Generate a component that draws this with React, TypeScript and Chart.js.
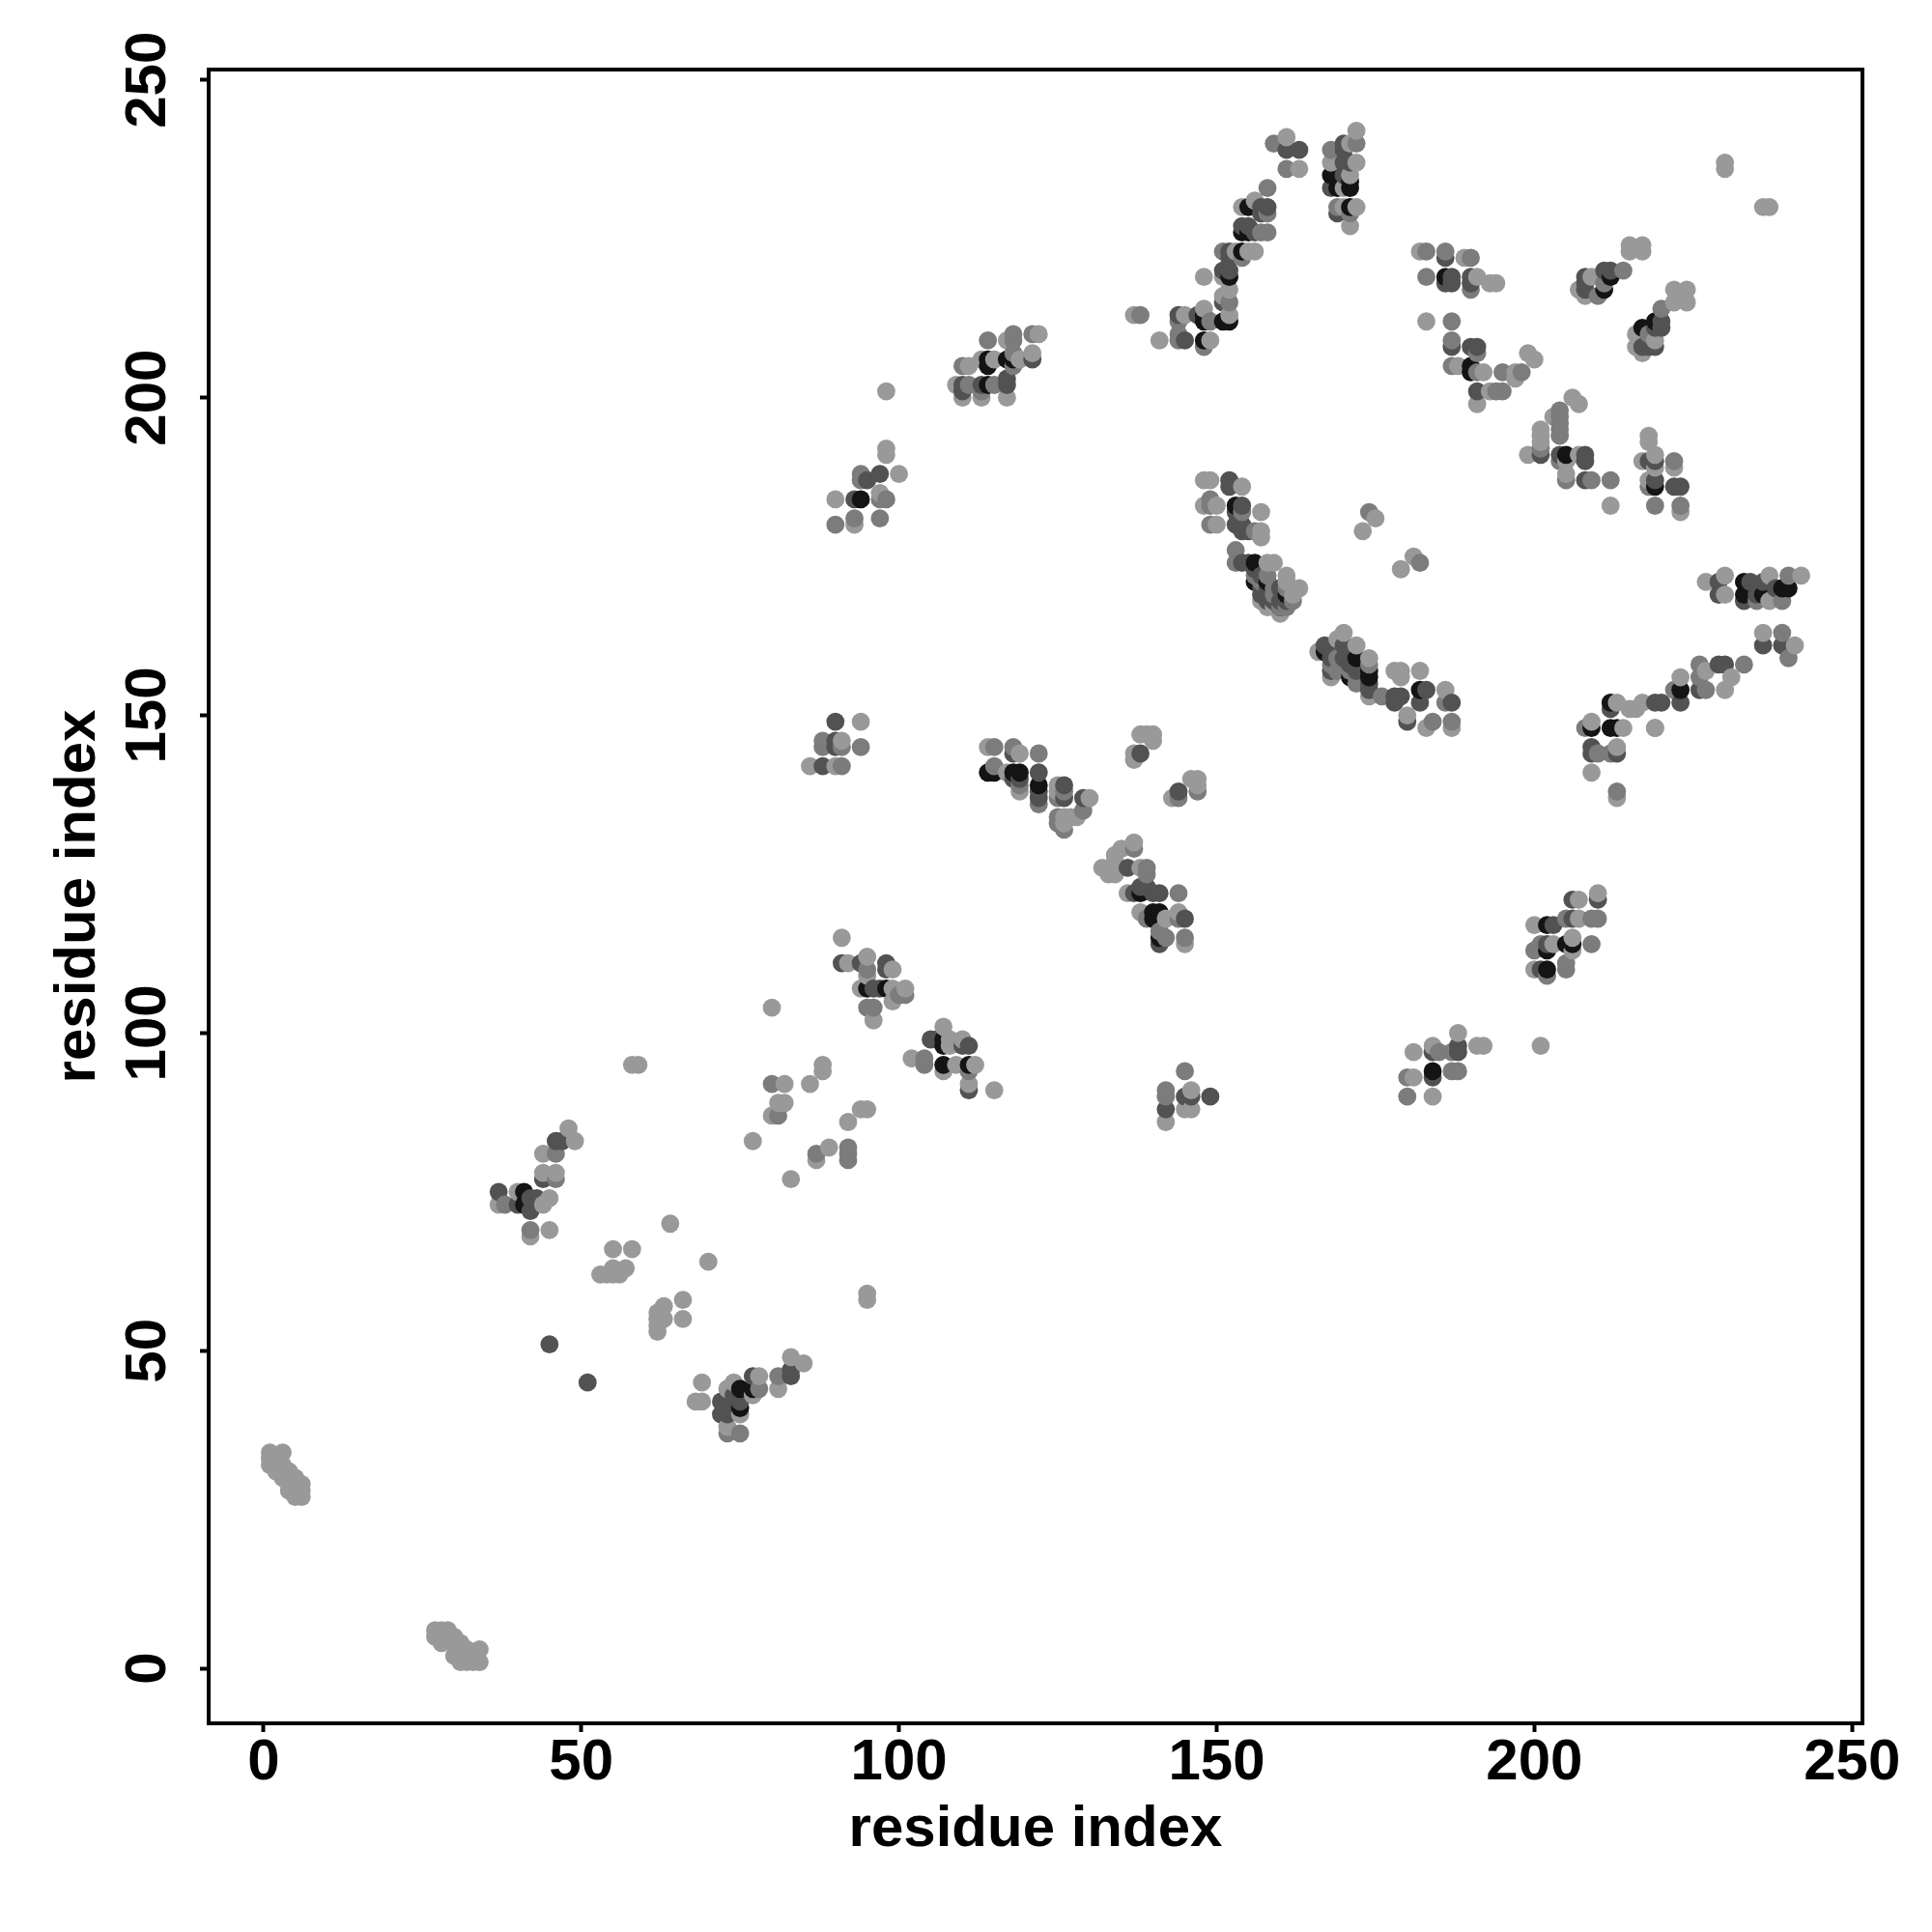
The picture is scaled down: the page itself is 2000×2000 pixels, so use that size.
import React, { useEffect, useRef } from "react";
import { Chart, registerables } from "chart.js";

Chart.register(...registerables);

type P = [number, number];

const TICKS = [0, 50, 100, 150, 200, 250];
const AXIS_TITLE = "residue index";

const lightPoints: P[] = [
  [1,34],[3,34],[1,33],[2,33],[1,32],[2,32],[3,32],[2,31],[3,31],[4,31],[3,30],[4,30],[5,30],[4,29],[5,29],[6,29],[4,28],[5,28],[6,28],[5,27],[6,27],
  [27,6],[28,6],[29,6],[27,5],[28,5],[29,5],[30,5],[28,4],[30,4],[31,4],[31,3],[32,3],[34,3],[30,2],[32,2],[33,2],[31,1],[32,1],[33,1],[34,1],
  [48,85],[49,83],[44,81],[46,78],[44,78],[45,74],[45,69],[42,68],[37,73],[40,75],[44,73],
  [58,95],[59,95],[64,70],[70,64],[55,66],[58,66],[53,62],[54,62],[55,63],[56,62],[57,63],[55,62],[63,57],[62,56],[63,55],[62,55],[62,53],[66,58],[66,55],[62,54],
  [69,45],[68,42],[69,42],[83,49],[85,48],[81,44],[78,46],[77,43],[74,45],[73,44],[75,40],[73,38],
  [80,104],[88,95],[88,94],[86,92],[82,92],[81,89],[82,89],[80,87],[77,83],[92,86],[94,88],[95,88],[83,77],[87,80],[89,82],[95,59],[95,58],
  [91,115],[92,111],[95,112],[95,109],[99,110],[94,107],[99,107],[101,107],[96,102],[99,105],
  [107,101],[108,99],[110,99],[108,98],[102,96],[109,95],[112,95],[107,94],[111,92],[115,91],
  [94,149],[91,146],[86,142],[90,142],[114,145],[119,144],[117,141],[119,138],[125,139],[125,138],[130,137],[128,134],[127,134],[126,134],[126,133],
  [138,147],[139,147],[140,147],[140,146],[137,144],[137,143],[143,137],[146,140],[147,140],[147,139],
  [137,130],[135,129],[134,128],[134,127],[132,126],[133,125],[134,125],[134,126],[138,126],[136,122],[138,119],[142,118],[144,119],[145,114],[142,86],[146,91],[145,88],[146,88],
  [154,186],[157,182],[150,180],[157,179],[157,178],[158,174],[159,174],[161,172],[161,171],[163,170],[162,169],[160,166],[148,187],[149,187],[150,183],[148,183],
  [157,168],[158,167],[159,167],[168,156],
  [173,179],[175,181],[181,175],[179,173],
  [170,163],[169,162],[172,161],[174,159],[174,153],[166,160],[178,157],[179,157],[179,156],[182,157],[186,154],[180,150],[183,148],[187,148],
  [209,149],[209,141],[213,137],[213,145],[214,148],[213,152],[215,151],[216,151],[217,152],[219,148],[223,156],[227,157],[231,156],[230,154],[236,163],[241,161],
  [227,171],[230,172],[230,169],[237,172],[237,168],[242,172],[210,122],[207,121],[207,118],[200,117],[203,114],[206,115],[200,110],[206,113],
  [188,100],[192,98],[191,98],[181,97],[184,98],[181,93],[184,90],[201,98],
  [122,210],[117,209],[121,207],[119,206],[113,206],[115,206],[111,205],[109,202],[117,200],[110,200],[113,200],
  [137,213],[141,209],[145,213],[148,214],[149,209],[152,213],[151,216],[152,217],[148,219],[151,219],[153,223],[155,223],[156,223],
  [154,230],[156,231],[161,241],[163,236],[172,242],[171,240],[172,237],[168,237],[171,235],[170,233],[170,230],[172,230],[171,227],
  [182,223],[189,222],[191,219],[193,218],[194,218],[183,212],[188,205],[192,204],[197,204],[197,203],[199,207],[200,206],[193,201],[191,199],
  [206,200],[207,199],[203,197],[201,195],[201,194],[201,193],[199,191],[205,190],[207,191],[205,188],[212,183],
  [215,224],[215,223],[217,224],[217,223],[209,219],[207,217],[208,216],[222,217],[224,217],[222,215],[224,215],[216,210],[216,208],[219,209],[217,207],
  [218,194],[218,193],[217,190],[219,191],[222,189],[219,189],[218,187],[223,182],[230,237],[230,236],[236,230],[237,230],
  [98,201],[98,192],[98,191],[100,188],[90,184],[93,180],[97,185],
];

const midPoints: P[] = [
  [46,81],[46,77],[42,69],[38,73],[75,37],[73,37],[81,46],[78,44],
  [80,92],[81,87],[87,81],[92,82],[92,81],[92,80],
  [95,110],[96,104],[95,104],[101,106],[100,106],[104,96],[104,95],[111,94],
  [88,146],[88,145],[94,145],[91,142],[91,145],[115,145],[118,145],[122,144],[115,142],[119,139],[122,136],[126,138],[129,135],[125,134],[125,133],[126,132],[125,137],
  [137,129],[139,125],[139,126],[144,122],[144,118],[139,118],[141,116],[142,115],[145,115],[145,94],[142,91],[142,90],[144,137],[147,138],
  [149,184],[149,183],[149,180],[153,176],[153,174],[156,172],[158,172],[159,169],[160,167],[161,167],[162,168],[156,179],[154,182],
  [157,171],[159,170],[161,170],[169,159],[169,157],[171,157],[172,155],
  [174,182],[182,174],[176,153],[186,152],[184,149],[187,149],[174,158],[168,158],
  [208,148],[210,144],[213,138],[212,144],[219,148],[222,154],[226,158],[226,156],[233,158],[227,154],[239,163],[240,159],
  [239,168],[240,172],[235,168],
  [209,118],[209,114],[210,118],[205,118],[200,113],[202,109],[205,110],[205,111],[201,114],
  [185,97],[187,97],[187,94],[188,94],[180,93],[180,90],
  [121,210],[118,210],[118,209],[114,209],[110,205],[118,207],[111,202],[115,202],[113,201],[118,205],
  [138,213],[144,212],[144,209],[144,210],[148,208],[149,212],[152,215],[151,223],[154,222],
  [158,229],[157,226],[158,233],[159,240],[161,236],[172,240],[168,239],[169,230],[171,229],[158,226],
  [183,223],[186,223],[190,222],[183,219],[187,212],[187,209],[191,207],[187,205],[191,204],[195,204],[198,204],[194,201],[195,201],[190,217],
  [204,198],[204,197],[204,196],[204,195],[204,194],[201,192],[204,190],[205,187],[209,187],[212,187],
  [214,220],[210,216],[211,218],[220,214],[218,210],[222,190],[219,183],[223,183],[218,186],
  [94,188],[94,187],[90,180],[97,181],[97,184],[98,184],[93,181],
];

const darkPoints: P[] = [
  [45,51],[51,45],[46,83],[47,83],[44,77],[37,75],[42,72],[40,73],[42,74],[43,74],[83,47],[83,46],[77,46],[75,42],[74,43],[72,42],[73,42],[72,40],[73,40],
  [91,111],[94,111],[98,111],[98,110],[96,107],[97,107],[105,99],[106,99],[111,98],[110,98],[111,91],
  [90,149],[90,146],[90,145],[88,142],[118,144],[122,141],[119,140],[118,140],[122,138],[122,137],[126,139],[126,137],[129,137],[144,138],[138,144],[136,126],[139,123],[138,123],[137,122],[140,122],[141,122],[145,118],[141,114],[145,90],[146,90],[149,90],[142,88],
  [152,187],[152,186],[154,183],[153,182],[153,180],[154,180],[154,179],[155,179],[155,174],[154,174],[157,169],[158,168],
  [156,173],[157,172],[157,170],[158,170],[159,168],[160,168],[161,168],[160,170],[168,159],[168,157],[172,157],
  [167,161],[170,161],[170,159],[171,158],[174,155],[174,154],[168,160],[172,158],[178,153],[179,153],[178,152],[183,154],[187,152],[182,152],[180,149],
  [209,145],[209,144],[213,144],[212,151],[219,152],[220,152],[223,152],[226,154],[229,158],[230,158],[239,161],[236,161],
  [229,171],[229,169],[234,171],[233,168],[236,171],[238,170],[235,169],
  [210,121],[206,121],[206,118],[203,117],[201,110],[202,114],
  [188,98],[188,97],[184,97],[184,93],
  [121,206],[110,202],[113,202],[117,203],[117,202],[110,201],
  [144,213],[145,209],[151,215],[151,220],[152,220],[152,223],[152,222],[147,213],
  [157,230],[158,230],[157,229],[154,227],[155,227],[156,226],[161,239],[163,239],
  [170,240],[170,239],[171,237],[170,237],[170,235],[168,233],[169,229],
  [186,222],[187,219],[186,218],[187,218],[190,219],[190,218],[187,208],[190,208],[191,208],[191,201],
  [201,191],[204,191],[208,191],[208,190],[208,187],
  [212,220],[211,220],[208,219],[208,217],[208,218],[220,212],[219,211],[220,211],[217,208],[218,208],[219,208],
  [218,190],[219,190],[219,187],[222,186],[223,186],
  [97,188],[93,184],[95,187],
];

const blackPoints: P[] = [
  [41,75],[41,73],[77,44],[75,44],[75,41],
  [95,107],[98,107],[107,99],[107,98],[107,95],[111,95],
  [114,141],[115,141],[118,141],[119,141],[122,139],[138,122],[140,119],[141,119],[140,118],[141,115],
  [153,183],[156,174],[156,171],[158,171],[160,167],[161,169],
  [167,160],[172,159],[171,156],[174,156],[174,157],[182,154],
  [209,148],[212,152],[212,148],[213,148],[223,154],
  [233,171],[233,169],[236,169],[239,170],[240,170],
  [202,117],[202,113],[205,114],[206,114],[202,110],
  [184,94],
  [114,206],[114,205],[117,206],[118,206],[114,202],
  [148,213],[148,212],[151,212],[152,212],[148,209],[152,219],[154,223],
  [155,230],[154,226],[155,226],
  [168,235],[169,233],[171,233],[171,234],[171,230],
  [186,219],[190,205],[190,204],
  [205,191],[212,219],[211,217],
  [219,212],[217,211],[219,186],[94,184],
];

const LIGHT = "#999999";
const MID = "#7c7c7c";
const DARK = "#525252";
const BLACK = "#141414";

// The reference paints by residue: later columns over earlier ones, higher rows over lower.
const merged = [
  ...blackPoints.map((p) => ({ p, c: BLACK })),
  ...darkPoints.map((p) => ({ p, c: DARK })),
  ...midPoints.map((p) => ({ p, c: MID })),
  ...lightPoints.map((p) => ({ p, c: LIGHT })),
].sort((a, b) => a.p[0] - b.p[0] || a.p[1] - b.p[1]);

const frame = {
  id: "frame",
  afterDraw(chart: Chart) {
    const { ctx, chartArea: a } = chart;
    ctx.save();
    ctx.strokeStyle = "#000";
    ctx.lineWidth = 4;
    ctx.strokeRect(a.left, a.top, a.right - a.left, a.bottom - a.top);
    ctx.restore();
  },
};

export default function App() {
  const ref = useRef<HTMLCanvasElement>(null);
  useEffect(() => {
    const font = { family: "'Liberation Sans'", size: 60, weight: "bold" as const };
    const gridCommon = {
      drawOnChartArea: false,
      drawTicks: true,
      tickLength: 9,
      tickWidth: 4,
      tickColor: "#000",
    };
    const chart = new Chart(ref.current!, {
      type: "scatter",
      data: {
        datasets: [
          {
            label: "contacts",
            data: merged.map(({ p }) => ({ x: p[0], y: p[1] })),
            backgroundColor: merged.map(({ c }) => c),
            borderWidth: 0,
            pointRadius: 9.4,
            pointStyle: "circle",
          },
        ],
      },
      options: {
        responsive: false,
        animation: false,
        layout: { padding: { top: 72, right: 72, left: 0, bottom: 0 } },
        plugins: { legend: { display: false }, tooltip: { enabled: false } },
        scales: {
          x: {
            type: "linear",
            min: -8.64,
            max: 251.64,
            afterFit: (s: any) => { s.height = 216; },
            afterBuildTicks: (s: any) => { s.ticks = TICKS.map((value) => ({ value })); },
            grid: gridCommon,
            border: { display: false },
            ticks: { color: "#000", font, padding: -4, maxRotation: 0, autoSkip: false },
            title: { display: true, text: AXIS_TITLE, color: "#000", font, padding: { top: 0, bottom: 70 } },
          },
          y: {
            type: "linear",
            min: -8.64,
            max: 251.64,
            afterFit: (s: any) => { s.width = 216; },
            afterBuildTicks: (s: any) => { s.ticks = TICKS.map((value) => ({ value })); },
            grid: gridCommon,
            border: { display: false },
            ticks: { color: "#000", font, padding: 2, minRotation: 90, maxRotation: 90, crossAlign: "center", autoSkip: false },
            title: { display: true, text: AXIS_TITLE, color: "#000", font, padding: { top: 45, bottom: 0 } },
          },
        },
      },
      plugins: [frame],
    } as any);
    return () => chart.destroy();
  }, []);
  return (
    <canvas
      ref={ref}
      width={2000}
      height={2000}
      style={{ position: "absolute", left: 0, top: 0, width: 2000, height: 2000, display: "block" }}
    />
  );
}
